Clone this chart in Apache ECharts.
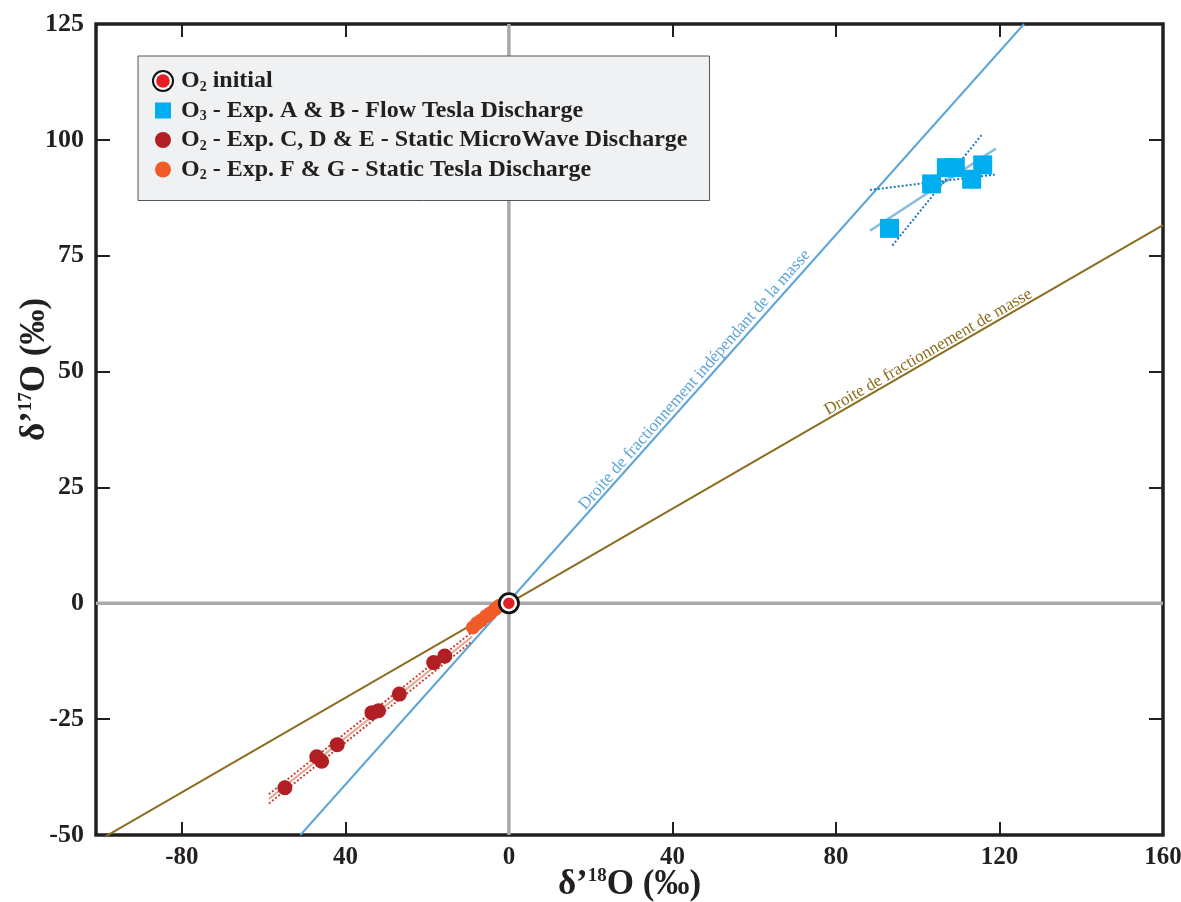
<!DOCTYPE html>
<html><head><meta charset="utf-8">
<script src="https://cdn.jsdelivr.net/npm/echarts@6/dist/echarts.min.js"></script>
<style>html,body{margin:0;padding:0;background:#fff}#c{width:1181px;height:902px}</style>
</head><body><div id="c"></div>
<script>
// ---- data ----
const xTickValues = [-80, -40, 0, 40, 80, 120, 160];
const xTickLabels = ['-80', '40', '0', '40', '80', '120', '160'];

const o2Initial = [[0, 0]];
const o3FlowTesla = [[93.1, 80.9], [103.4, 90.5], [107.0, 94.0], [109.2, 94.0], [113.2, 91.5], [115.9, 94.6]];
const o2StaticMW = [[-54.8, -39.8], [-47.0, -33.1], [-45.8, -34.1], [-42.0, -30.5], [-33.5, -23.6], [-31.9, -23.2], [-26.8, -19.6], [-18.4, -12.8], [-15.7, -11.4]];
const o2StaticTesla = [[-8.8, -5.2], [-7.8, -4.3], [-6.8, -3.7], [-5.6, -2.8], [-4.6, -2.2], [-3.4, -1.3], [-2.4, -0.6]];

const massIndepLine = [[-51, -50], [126, 125]];
const massDepLine = [[-101, -51.5], [160, 81.6]];
const zeroVertical = [[0, -50], [0, 125]];
const zeroHorizontal = [[-101, 0], [160, 0]];

const o3Fit = [[88.3, 80.4], [119.1, 98.1]];
const o3BandA = [[88.3, 89.2], [118.9, 92.5]];
const o3BandB = [[93.8, 77.2], [115.6, 101.0]];

const mwFit = [[-58.7, -42.2], [-9.0, -7.2]];
const mwBandUpper = [[-58.7, -41.2], [-9.0, -6.2]];
const mwBandLower = [[-58.7, -43.2], [-9.0, -8.2]];

const names = {
  init: 'O2 initial',
  o3: 'O3 - Exp. A & B - Flow Tesla Discharge',
  mw: 'O2 - Exp. C, D & E - Static MicroWave Discharge',
  st: 'O2 - Exp. F & G - Static Tesla Discharge'
};

// ---- chart ----
const FONT = 'Liberation Serif';
const INK = '#231f20';
const C_INIT = '#e31e24', C_O3 = '#00aeef', C_MW = '#b11f24', C_ST = '#f15a29';
const chart = echarts.init(document.getElementById('c'));

function svgIcon(inner) {
  return 'image://data:image/svg+xml;utf8,' + encodeURIComponent(
    '<svg xmlns="http://www.w3.org/2000/svg" width="46" height="46" viewBox="0 0 23 23">' + inner + '</svg>');
}
const iconInit = svgIcon('<circle cx="11.5" cy="11.5" r="11" fill="#111"/><circle cx="11.5" cy="11.5" r="9" fill="#fff"/><circle cx="11.5" cy="11.5" r="6.8" fill="' + C_INIT + '"/>');
const iconO3 = svgIcon('<rect x="3.5" y="3.5" width="16" height="16" fill="' + C_O3 + '"/>');
const iconMW = svgIcon('<circle cx="11.5" cy="11.5" r="8" fill="' + C_MW + '"/>');
const iconST = svgIcon('<circle cx="11.5" cy="11.5" r="8" fill="' + C_ST + '"/>');

function lineSeries(data, color, width, type, z) {
  return {
    type: 'line', data: data, showSymbol: false, silent: true, z: z || 2,
    lineStyle: { color: color, width: width, type: type || 'solid' },
    animation: false
  };
}

const axisNameRich = {
  a: { fontFamily: FONT, fontWeight: 'bold', fontSize: 35, color: INK },
  sup: { fontFamily: FONT, fontWeight: 'bold', fontSize: 19, color: INK, verticalAlign: 'top', padding: [0, 0, 16, 0] }
};

const option = {
  backgroundColor: '#ffffff',
  animation: false,
  grid: { left: 96, right: 18, top: 24, bottom: 67, show: true, borderColor: INK, borderWidth: 3.5, backgroundColor: 'transparent', containLabel: false, outerBoundsMode: 'none' },
  legend: {
    left: 138, top: 56, orient: 'vertical',
    data: [
      { name: names.init, icon: iconInit },
      { name: names.o3, icon: iconO3 },
      { name: names.mw, icon: iconMW },
      { name: names.st, icon: iconST }
    ],
    backgroundColor: '#f0f1f2', borderColor: '#555', borderWidth: 1,
    padding: [13, 22, 18, 12],
    itemWidth: 26, itemHeight: 23, itemGap: 4.5,
    selectedMode: false,
    formatter: function (n) { return n.replace(/^O([23])/, 'O{sub|$1}'); },
    textStyle: {
      fontFamily: FONT, fontWeight: 'bold', fontSize: 24, color: INK,
      rich: {
        sub: { fontFamily: FONT, fontWeight: 'bold', fontSize: 14, color: INK, verticalAlign: 'bottom', padding: [12, 0, 0, 0] }
      }
    }
  },
  xAxis: [{
    type: 'value', min: -101, max: 160, position: 'bottom',
    axisLine: { show: false, onZero: false },
    axisTick: { show: true, inside: true, length: 13, customValues: xTickValues, lineStyle: { color: INK, width: 2 } },
    axisLabel: {
      customValues: xTickValues, margin: 10,
      formatter: function (v) { const i = xTickValues.indexOf(v); return i >= 0 ? xTickLabels[i] : ''; },
      fontFamily: FONT, fontWeight: 'bold', fontSize: 25, color: INK
    },
    splitLine: { show: false },
    name: '{a|δ’}{sup|18}{a|O (‰)}', nameLocation: 'middle', nameGap: 32, nameMoveOverlap: false,
    nameTextStyle: { rich: axisNameRich }
  }, {
    type: 'value', min: -101, max: 160, position: 'top',
    axisLine: { show: false, onZero: false },
    axisTick: { show: true, inside: true, length: 13, customValues: xTickValues, lineStyle: { color: INK, width: 2 } },
    axisLabel: { show: false }, splitLine: { show: false }
  }],
  yAxis: [{
    type: 'value', min: -50, max: 125, interval: 25, position: 'left',
    axisLine: { show: false, onZero: false },
    axisTick: { show: true, inside: true, length: 14, lineStyle: { color: INK, width: 2 } },
    axisLabel: { margin: 12, fontFamily: FONT, fontWeight: 'bold', fontSize: 26, color: INK },
    splitLine: { show: false },
    name: '{a|δ’}{sup|17}{a|O (‰)}', nameLocation: 'middle', nameGap: 44, nameRotate: 90, nameMoveOverlap: false,
    nameTextStyle: { rich: axisNameRich, padding: [0, 0, 0, 120] }
  }, {
    type: 'value', min: -50, max: 125, interval: 25, position: 'right',
    axisLine: { show: false, onZero: false },
    axisTick: { show: true, inside: true, length: 14, lineStyle: { color: INK, width: 2 } },
    axisLabel: { show: false }, splitLine: { show: false }
  }],
  series: [
    lineSeries(zeroVertical, '#a7a9ac', 3.5, 'solid', 1),
    lineSeries(zeroHorizontal, '#a7a9ac', 3.5, 'solid', 1),
    Object.assign(lineSeries(massIndepLine, '#5ea5d8', 2, 'solid', 2), {
      markLine: {
        silent: true, symbol: 'none', animation: false,
        lineStyle: { color: 'transparent', width: 0 },
        label: { show: true, position: 'insideMiddleTop', distance: 0, formatter: 'Droite de fractionnement indépendant de la masse', color: '#5ea5d8', fontFamily: FONT, fontSize: 17 },
        data: [[{ coord: [4, 4] }, { coord: [90, 90] }]]
      }
    }),
    Object.assign(lineSeries(massDepLine, '#8b6d1f', 2, 'solid', 2), {
      markLine: {
        silent: true, symbol: 'none', animation: false,
        lineStyle: { color: 'transparent', width: 0 },
        label: { show: true, position: 'insideMiddleTop', distance: -1, formatter: 'Droite de fractionnement de masse', color: '#8b6d1f', fontFamily: FONT, fontSize: 17 },
        data: [[{ coord: [62, 31.6] }, { coord: [145, 74] }]]
      }
    }),
    lineSeries(o3Fit, '#86bde0', 2.5, 'solid', 3),
    lineSeries(o3BandA, '#1f78c1', 2, 'dotted', 3),
    lineSeries(o3BandB, '#1f78c1', 2, 'dotted', 3),
    lineSeries(mwFit, '#e3a99a', 2, 'solid', 3),
    lineSeries(mwBandUpper, '#c8442e', 2, 'dotted', 3),
    lineSeries(mwBandLower, '#c8442e', 2, 'dotted', 3),
    {
      name: names.mw, type: 'scatter', data: o2StaticMW, symbol: 'circle', symbolSize: 15, z: 5,
      itemStyle: { color: C_MW, opacity: 1 }
    },
    {
      name: names.st, type: 'scatter', data: o2StaticTesla, symbol: 'circle', symbolSize: 14, z: 5,
      itemStyle: { color: C_ST, opacity: 1 }
    },
    {
      name: names.o3, type: 'scatter', data: o3FlowTesla, symbol: 'rect', symbolSize: 19, z: 5,
      itemStyle: { color: C_O3, opacity: 1 }
    },
    {
      name: 'ring', type: 'scatter', data: o2Initial, symbol: 'circle', symbolSize: 22, z: 6, silent: true,
      itemStyle: { color: '#111', opacity: 1 }
    },
    {
      name: names.init, type: 'scatter', data: o2Initial, symbol: 'circle', symbolSize: 14, z: 7,
      itemStyle: { color: C_INIT, borderColor: '#ffffff', borderWidth: 2.5, opacity: 1 }
    }
  ]
};
chart.setOption(option);
</script>
</body></html>
